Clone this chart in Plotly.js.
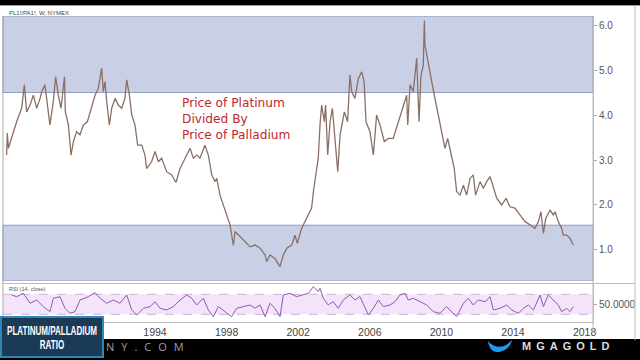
<!DOCTYPE html>
<html>
<head>
<meta charset="utf-8">
<script src="https://cdn.plot.ly/plotly-3.0.1.min.js"></script>
<style>
html,body{margin:0;padding:0;background:#000;width:640px;height:360px;overflow:hidden;}
#panel{position:absolute;left:0;top:5px;width:640px;height:334px;background:#fff;border-top:1px solid #9a9a9a;box-sizing:border-box;}
#chart{position:absolute;left:0;top:0;width:640px;height:360px;}
#strip{position:absolute;left:0;top:340px;width:640px;height:20px;z-index:5;}
#wm{position:absolute;left:106px;top:0px;font-family:"Open Sans",sans-serif;font-size:11px;line-height:13px;color:rgba(200,200,200,0.8);letter-spacing:7px;white-space:nowrap;}
#tw{position:absolute;left:522px;top:0px;font-family:"Liberation Sans",Arial,sans-serif;font-weight:bold;font-size:11px;line-height:13px;color:#dcdcdc;letter-spacing:5px;white-space:nowrap;}
#bird{position:absolute;left:486px;top:0px;}
#badge{position:absolute;left:0;top:316px;width:104px;height:42px;background:#1b3a55;border:2px solid #2f86b8;box-sizing:border-box;z-index:10;color:#fff;font-family:"Liberation Sans",Arial,sans-serif;font-weight:bold;font-size:12px;line-height:14px;}
#badge span{position:absolute;left:50%;transform:translateX(-50%) scaleX(0.67);white-space:nowrap;}
</style>
</head>
<body>
<div id="panel"></div>
<div id="chart"></div>
<div id="strip">
  <div id="wm">NY.COM</div>
  <svg id="bird" width="28" height="14" viewBox="0 0 28 14"><path d="M2 1 C6 6 12 8 18 6 C22 4 25 1 26 0 C25 6 19 12 11 12 C6 12 3 8 2 1 Z" fill="#1d9bf0"/></svg>
  <div id="tw">MGAGOLD</div>
</div>
<div id="badge"><span style="top:6px">PLATINUM/PALLADIUM</span><span style="top:20px">RATIO</span></div>
<script>
// Platinum / Palladium ratio (weekly)
var priceYears = [1985.71,1985.75,1985.81,1986.09,1986.27,1986.55,1986.70,1986.83,1987.02,1987.20,1987.39,1987.58,1987.67,1987.85,1987.95,1988.13,1988.32,1988.45,1988.60,1988.75,1988.94,1988.99,1989.16,1989.31,1989.44,1989.62,1989.81,1990.00,1990.22,1990.37,1990.65,1990.83,1991.02,1991.11,1991.21,1991.30,1991.45,1991.58,1991.77,1991.95,1992.14,1992.32,1992.42,1992.57,1992.70,1992.88,1993.03,1993.26,1993.44,1993.53,1993.81,1994.00,1994.19,1994.37,1994.65,1994.93,1995.17,1995.40,1995.68,1995.96,1996.14,1996.33,1996.51,1996.79,1996.98,1997.17,1997.35,1997.45,1997.63,1997.82,1998.00,1998.19,1998.38,1998.47,1998.75,1999.03,1999.31,1999.59,1999.87,2000.15,2000.24,2000.42,2000.70,2000.98,2001.17,2001.36,2001.64,2001.82,2001.95,2002.19,2002.47,2002.75,2002.85,2002.94,2003.12,2003.22,2003.31,2003.46,2003.53,2003.65,2003.78,2003.91,2004.06,2004.21,2004.34,2004.58,2004.76,2004.89,2004.99,2005.17,2005.36,2005.55,2005.68,2005.79,2006.01,2006.20,2006.38,2006.57,2006.81,2007.04,2007.31,2007.59,2007.87,2008.06,2008.12,2008.25,2008.43,2008.62,2008.75,2008.86,2008.99,2009.05,2009.08,2009.27,2009.46,2009.64,2009.83,2010.02,2010.20,2010.35,2010.48,2010.72,2010.85,2011.04,2011.23,2011.41,2011.60,2011.78,2011.91,2012.16,2012.34,2012.53,2012.72,2012.90,2013.09,2013.37,2013.61,2013.83,2014.11,2014.39,2014.67,2014.95,2015.23,2015.42,2015.56,2015.70,2015.83,2016.07,2016.25,2016.35,2016.53,2016.72,2016.81,2017.00,2017.18,2017.37];
var priceRatio = [3.11,3.60,3.26,3.63,3.85,4.15,4.67,4.07,4.22,4.44,4.15,4.37,4.52,4.67,4.30,3.78,4.30,4.85,4.44,4.15,4.85,4.07,3.78,3.11,3.41,3.63,3.56,3.78,3.85,4.07,4.44,4.59,5.04,4.52,4.74,4.30,3.78,4.15,4.37,4.22,4.15,4.37,4.78,4.44,4.00,3.78,3.33,3.33,3.11,2.81,2.96,3.19,2.96,3.04,2.74,2.67,2.50,2.81,3.04,3.26,3.04,3.11,3.04,3.33,3.11,2.67,2.52,2.59,2.22,2.00,1.78,1.56,1.10,1.41,1.30,1.19,1.07,1.11,1.04,0.89,0.74,0.89,0.81,0.63,0.89,1.04,1.11,1.33,1.15,1.48,1.70,1.93,2.30,2.59,3.04,3.78,4.22,3.85,4.22,3.11,3.85,4.15,3.41,2.74,3.56,4.07,3.85,4.89,4.52,4.37,4.81,4.96,4.74,3.85,3.63,3.11,4.00,3.78,3.41,3.48,3.48,3.85,4.22,4.44,3.78,4.67,4.52,5.26,3.85,4.89,5.11,6.10,5.56,5.11,4.74,4.37,4.00,3.63,3.26,3.48,3.26,2.81,2.30,2.22,2.44,2.22,2.59,2.67,2.22,2.52,2.37,2.52,2.63,2.37,2.15,2.00,2.15,1.96,1.93,1.78,1.63,1.56,1.48,1.63,1.85,1.37,1.70,1.89,1.78,1.85,1.63,1.48,1.33,1.33,1.26,1.11];

// RSI (14, close)
var rsiYears = [1985.99,1986.27,1986.64,1987.02,1987.39,1987.76,1988.13,1988.32,1988.69,1988.97,1989.25,1989.53,1989.81,1990.28,1990.65,1990.93,1991.30,1991.67,1992.04,1992.42,1992.70,1992.98,1993.35,1993.72,1994.00,1994.28,1994.65,1995.02,1995.40,1995.77,1996.05,1996.33,1996.70,1996.98,1997.26,1997.54,1997.91,1998.28,1998.56,1998.93,1999.31,1999.59,1999.87,2000.15,2000.42,2000.70,2000.98,2001.17,2001.54,2001.91,2002.19,2002.57,2002.85,2003.12,2003.22,2003.40,2003.68,2003.96,2004.24,2004.52,2004.89,2005.17,2005.45,2005.73,2005.92,2006.20,2006.48,2006.76,2007.13,2007.41,2007.69,2007.97,2008.15,2008.43,2008.80,2009.18,2009.55,2009.92,2010.29,2010.57,2010.85,2011.23,2011.50,2011.78,2012.06,2012.44,2012.72,2012.90,2013.27,2013.65,2013.93,2014.30,2014.58,2014.86,2015.14,2015.51,2015.70,2015.97,2016.25,2016.53,2016.72,2017.00,2017.18,2017.37];
var rsiValues = [68.6,65.3,72,52,58.6,45.3,35.3,62,65.3,42,32,35.3,58.6,65.3,73.3,62,52,58.6,52,68.6,38.6,28.6,42,45.3,55.3,42,38.6,45.3,58.6,68.6,62,48.6,62,38.6,25.3,45.3,35.3,25.3,42,45.3,48.6,42,48.6,25.3,52,42,25.3,68.6,72,65.3,68.6,72,85.3,75.3,82,62,48.6,55.3,42,58.6,68.6,58.6,65.3,42,28.6,42,58.6,45.3,48.6,55.3,68.6,72,58.6,62,55.3,48.6,35.3,32,45.3,35.3,25.3,52,62,48.6,58.6,55.3,65.3,38.6,42,48.6,38.6,32,42,48.6,38.6,68.6,45.3,68.6,58.6,48.6,35.3,42,35.3,45.3];

// axis tick labels
var yearTicks = [1994, 1998, 2002, 2006, 2010, 2014, 2018];
var yearLabels = ['1994', '1998', '2002', '2006', '2010', '2014', '2018'];
var priceTicks = [1, 2, 3, 4, 5, 6];
var priceLabels = ['1.0', '2.0', '3.0', '4.0', '5.0', '6.0'];
var rsiTicks = [50];
var rsiLabels = ['50.0000'];
var upperBand = [4.5, 6.2];
var lowerBand = [0.311, 1.55];
var rsiBand = [30, 70];

var tickFont = {family: 'Liberation Sans, Arial, sans-serif', size: 10, color: '#555'};

var traces = [
  {x: priceYears, y: priceRatio, type: 'scatter', mode: 'lines', xaxis: 'x', yaxis: 'y',
   line: {color: '#8a7064', width: 1.3}, hoverinfo: 'skip'},
  {x: rsiYears, y: rsiValues, type: 'scatter', mode: 'lines', xaxis: 'x', yaxis: 'y2',
   line: {color: '#8e59b0', width: 1}, hoverinfo: 'skip'}
];

var bandFill = '#c9d0e6', bandLine = '#8e99c4';
var layout = {
  width: 640, height: 360,
  margin: {l: 3, r: 47, t: 16, b: 38, pad: 0},
  paper_bgcolor: 'rgba(0,0,0,0)', plot_bgcolor: 'rgba(0,0,0,0)',
  showlegend: false,
  xaxis: {range: [1985.508, 2018.47], anchor: 'y2', tickvals: yearTicks, ticktext: yearLabels,
          showgrid: false, zeroline: false, showline: true, linecolor: '#bbb', linewidth: 1,
          ticks: '', tickfont: {family: 'Liberation Sans, Arial, sans-serif', size: 10.5, color: '#444'}},
  yaxis: {domain: [0.134, 1], range: [0.311, 6.2], side: 'right', tickvals: priceTicks, ticktext: priceLabels,
          showgrid: false, zeroline: false, showline: true, linecolor: '#bbb', linewidth: 1,
          ticks: 'outside', ticklen: 3, tickcolor: '#aaa', tickfont: tickFont},
  yaxis2: {domain: [0, 0.1242], range: [14.6, 90.6], side: 'right', anchor: 'x', tickvals: rsiTicks, ticktext: rsiLabels,
          showgrid: false, zeroline: false, showline: true, linecolor: '#bbb', linewidth: 1,
          ticks: 'outside', ticklen: 3, tickcolor: '#aaa', tickfont: tickFont},
  shapes: [
    {type: 'rect', xref: 'paper', yref: 'y', x0: 0, x1: 1, y0: upperBand[0], y1: upperBand[1],
     fillcolor: bandFill, line: {color: bandLine, width: 1}, layer: 'below'},
    {type: 'rect', xref: 'paper', yref: 'y', x0: 0, x1: 1, y0: lowerBand[0], y1: lowerBand[1],
     fillcolor: bandFill, line: {color: bandLine, width: 1}, layer: 'below'},
    {type: 'rect', xref: 'paper', yref: 'y2', x0: 0, x1: 1, y0: rsiBand[0], y1: rsiBand[1],
     fillcolor: '#f4e4fa', line: {width: 0}, layer: 'below'},
    {type: 'line', xref: 'paper', yref: 'y2', x0: 0, x1: 1, y0: rsiBand[1], y1: rsiBand[1],
     line: {color: '#cdb2da', width: 1, dash: 'dash'}, layer: 'below'},
    {type: 'line', xref: 'paper', yref: 'y2', x0: 0, x1: 1, y0: rsiBand[0], y1: rsiBand[0],
     line: {color: '#cdb2da', width: 1, dash: 'dash'}, layer: 'below'},
    {type: 'line', xref: 'paper', yref: 'paper', x0: 0, x1: 1.0712, y0: 0.1258, y1: 0.1258,
     line: {color: '#bbb', width: 1}},
    {type: 'line', xref: 'paper', yref: 'paper', x0: 0, x1: 0, y0: 0, y1: 1,
     line: {color: '#aaa', width: 1}},
    {type: 'line', xref: 'paper', yref: 'paper', x0: 1, x1: 1, y0: -0.036, y1: 1,
     line: {color: '#bbb', width: 1}},
    {type: 'line', xref: 'paper', yref: 'paper', x0: 1.0712, x1: 1.0712, y0: -0.059, y1: 1.036,
     line: {color: '#bbb', width: 1}}
  ],
  annotations: [
    {xref: 'paper', yref: 'paper', x: 0.0068, y: 1.0098, xanchor: 'left', yanchor: 'middle', showarrow: false,
     text: 'PL1!/PA1!, W, NYMEX', font: {family: 'Liberation Sans, Arial, sans-serif', size: 6, color: '#444'}},
    {xref: 'paper', yref: 'paper', x: 0.0068, y: 0.1078, xanchor: 'left', yanchor: 'middle', showarrow: false,
     text: 'RSI (14, close)', font: {family: 'Liberation Sans, Arial, sans-serif', size: 5.5, color: '#555'}},
    {xref: 'paper', yref: 'paper', x: 0.3, y: 0.6634, xanchor: 'left', yanchor: 'middle', align: 'left', showarrow: false,
     text: 'Price of Platinum<br>Divided By<br>Price of Palladium',
     font: {family: 'DejaVu Sans, Verdana, sans-serif', size: 12.2, color: '#c0272d'}}
  ],
  hovermode: false
};

Plotly.newPlot('chart', traces, layout, {staticPlot: true, displayModeBar: false});
</script>
</body>
</html>
